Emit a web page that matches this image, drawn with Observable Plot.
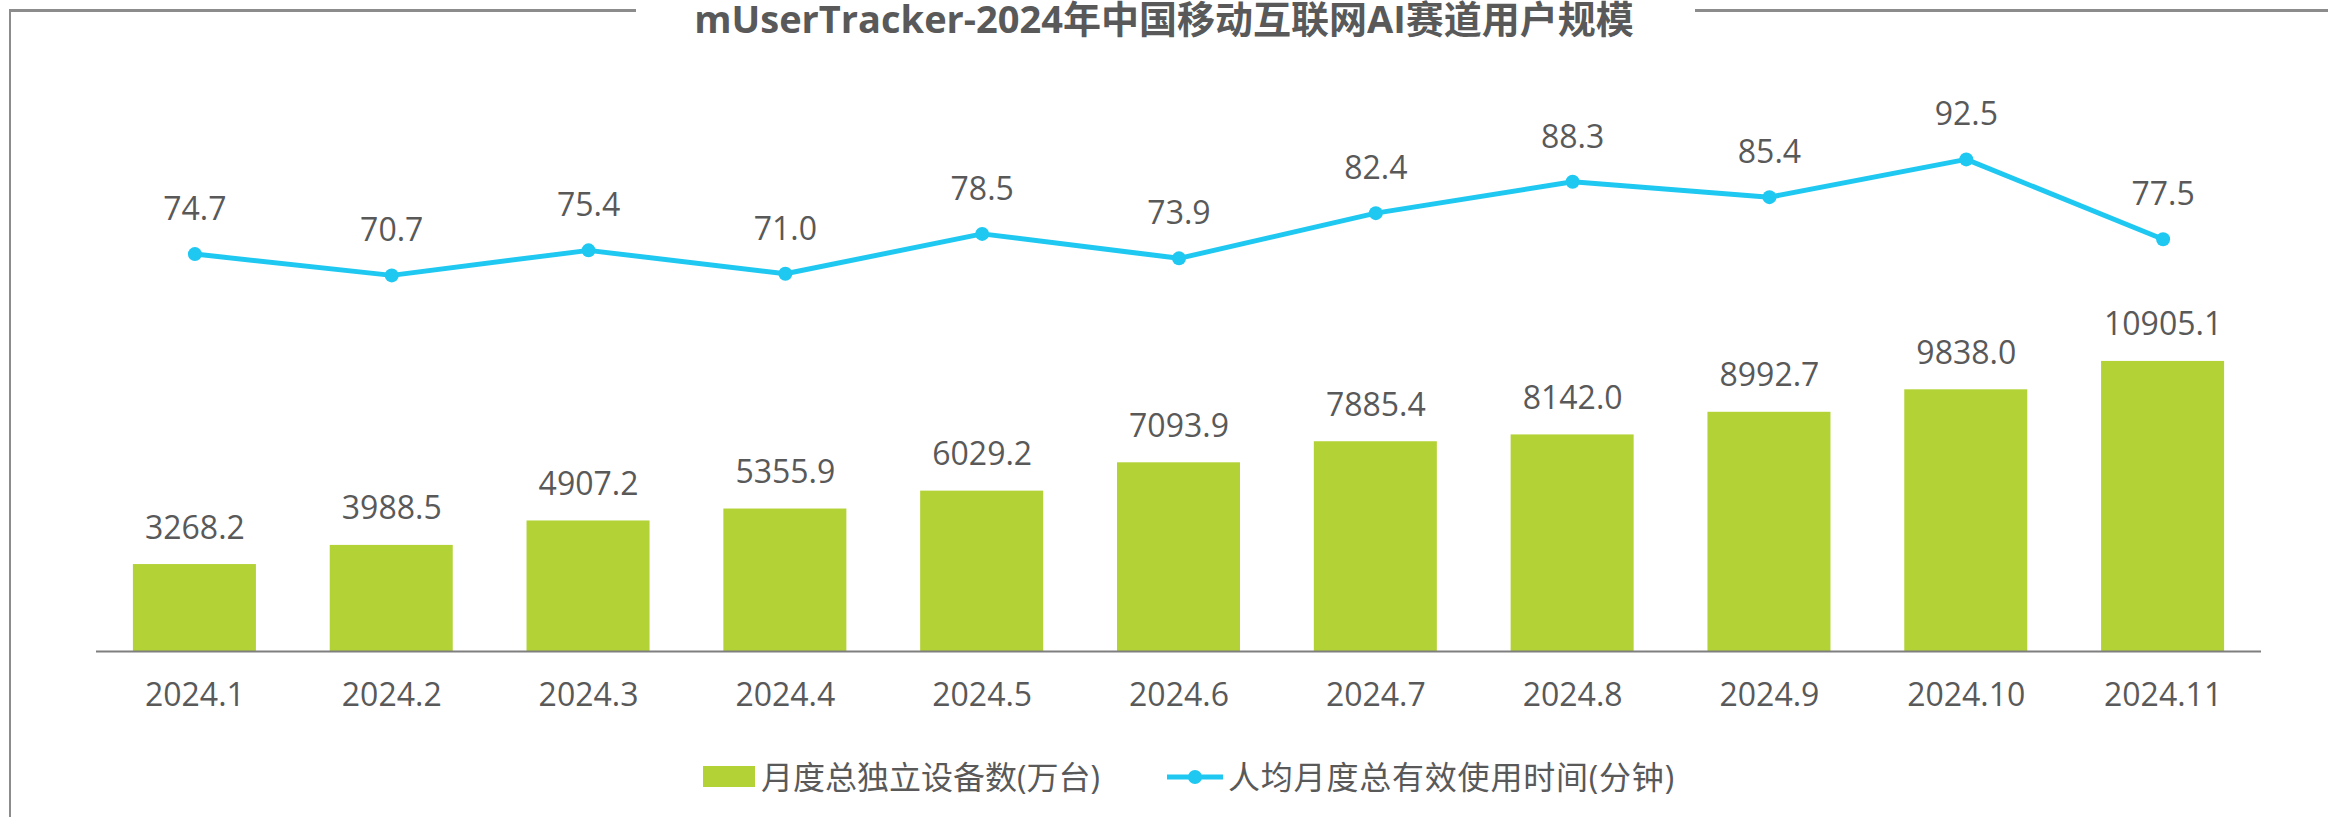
<!DOCTYPE html>
<html><head><meta charset="utf-8">
<script src="https://cdn.jsdelivr.net/npm/d3@7"></script>
<script src="https://cdn.jsdelivr.net/npm/@observablehq/plot@0.6"></script>
<style>
html,body{margin:0;padding:0;background:#fff;}
#wrap{position:relative;width:2328px;height:817px;overflow:hidden;font-family:"Open Sans","Noto Sans CJK SC",sans-serif;color:#595959;}
#chart{position:absolute;left:0;top:0;}
.frame{position:absolute;background:#8c8c8c;}
#title{position:absolute;left:0;width:2328px;top:0px;text-align:center;font-weight:bold;font-size:38px;line-height:36px;white-space:nowrap;color:#595959;}
.ltext{position:absolute;font-size:32px;line-height:40px;top:757px;white-space:nowrap;color:#595959;}
</style></head><body>
<div id="wrap">
 <div class="frame" style="left:9px;top:9px;width:627px;height:3px"></div>
 <div class="frame" style="left:1695px;top:9px;width:633px;height:3px"></div>
 <div class="frame" style="left:9px;top:9px;width:2px;height:808px"></div>
 <div id="chart"></div>
 <div id="title">mUserTracker-2024年中国移动互联网AI赛道用户规模</div>
 <div style="position:absolute;left:703px;top:766px;width:52px;height:21px;background:#b2d235"></div>
 <div class="ltext" style="left:761px">月度总独立设备数(万台)</div>
 <svg style="position:absolute;left:1160px;top:760px" width="70" height="34"><line x1="7" y1="17" x2="63" y2="17" stroke="#1fc8f1" stroke-width="5"/><circle cx="35" cy="17" r="7" fill="#1fc8f1"/></svg>
 <div class="ltext" style="left:1228px;letter-spacing:0.8px">人均月度总有效使用时间(分钟)</div>
</div>
<script>
const months = ["2024.1","2024.2","2024.3","2024.4","2024.5","2024.6","2024.7","2024.8","2024.9","2024.10","2024.11"];
const devices = [3268.2, 3988.5, 4907.2, 5355.9, 6029.2, 7093.9, 7885.4, 8142.0, 8992.7, 9838.0, 10905.1];
const minutes = [74.7, 70.7, 75.4, 71.0, 78.5, 73.9, 82.4, 88.3, 85.4, 92.5, 77.5];
const barAxisMax = 20000;
const lineAxisMax = 100;

const data = months.map((m, i) => ({month: m, devices: devices[i], minutes: minutes[i]}));
const k = barAxisMax / lineAxisMax;
const green = "#b2d235", cyan = "#1fc8f1", textColor = "#595959";
const font = '"Open Sans","Noto Sans CJK SC",sans-serif';

const plot = Plot.plot({
  width: 2328, height: 817,
  marginLeft: 96, marginRight: 67, marginTop: 119, marginBottom: 166,
  style: {fontFamily: font, fontSize: "32px", color: textColor, background: "transparent"},
  x: {type: "band", domain: months, paddingInner: 0.375, paddingOuter: 0.1875, round: false, label: null},
  y: {domain: [0, barAxisMax], axis: null},
  marks: [
    Plot.barY(data, {x: "month", y: "devices", fill: green}),
    Plot.ruleY([0], {stroke: "#7f7f7f", strokeWidth: 2}),
    Plot.axisX({tickSize: 0, tickPadding: 32, fontSize: 32, fill: textColor, label: null}),
    Plot.text(data, {x: "month", y: "devices", text: d => d.devices.toFixed(1), dy: -26, lineAnchor: "bottom", fontSize: 32, fill: textColor}),
    Plot.lineY(data, {x: "month", y: d => d.minutes * k, stroke: cyan, strokeWidth: 5}),
    Plot.dot(data, {x: "month", y: d => d.minutes * k, r: 7, fill: cyan}),
    Plot.text(data, {x: "month", y: d => d.minutes * k, text: d => d.minutes.toFixed(1), dy: -34, lineAnchor: "bottom", fontSize: 32, fill: textColor})
  ]
});
document.getElementById("chart").appendChild(plot);
</script>
</body></html>
